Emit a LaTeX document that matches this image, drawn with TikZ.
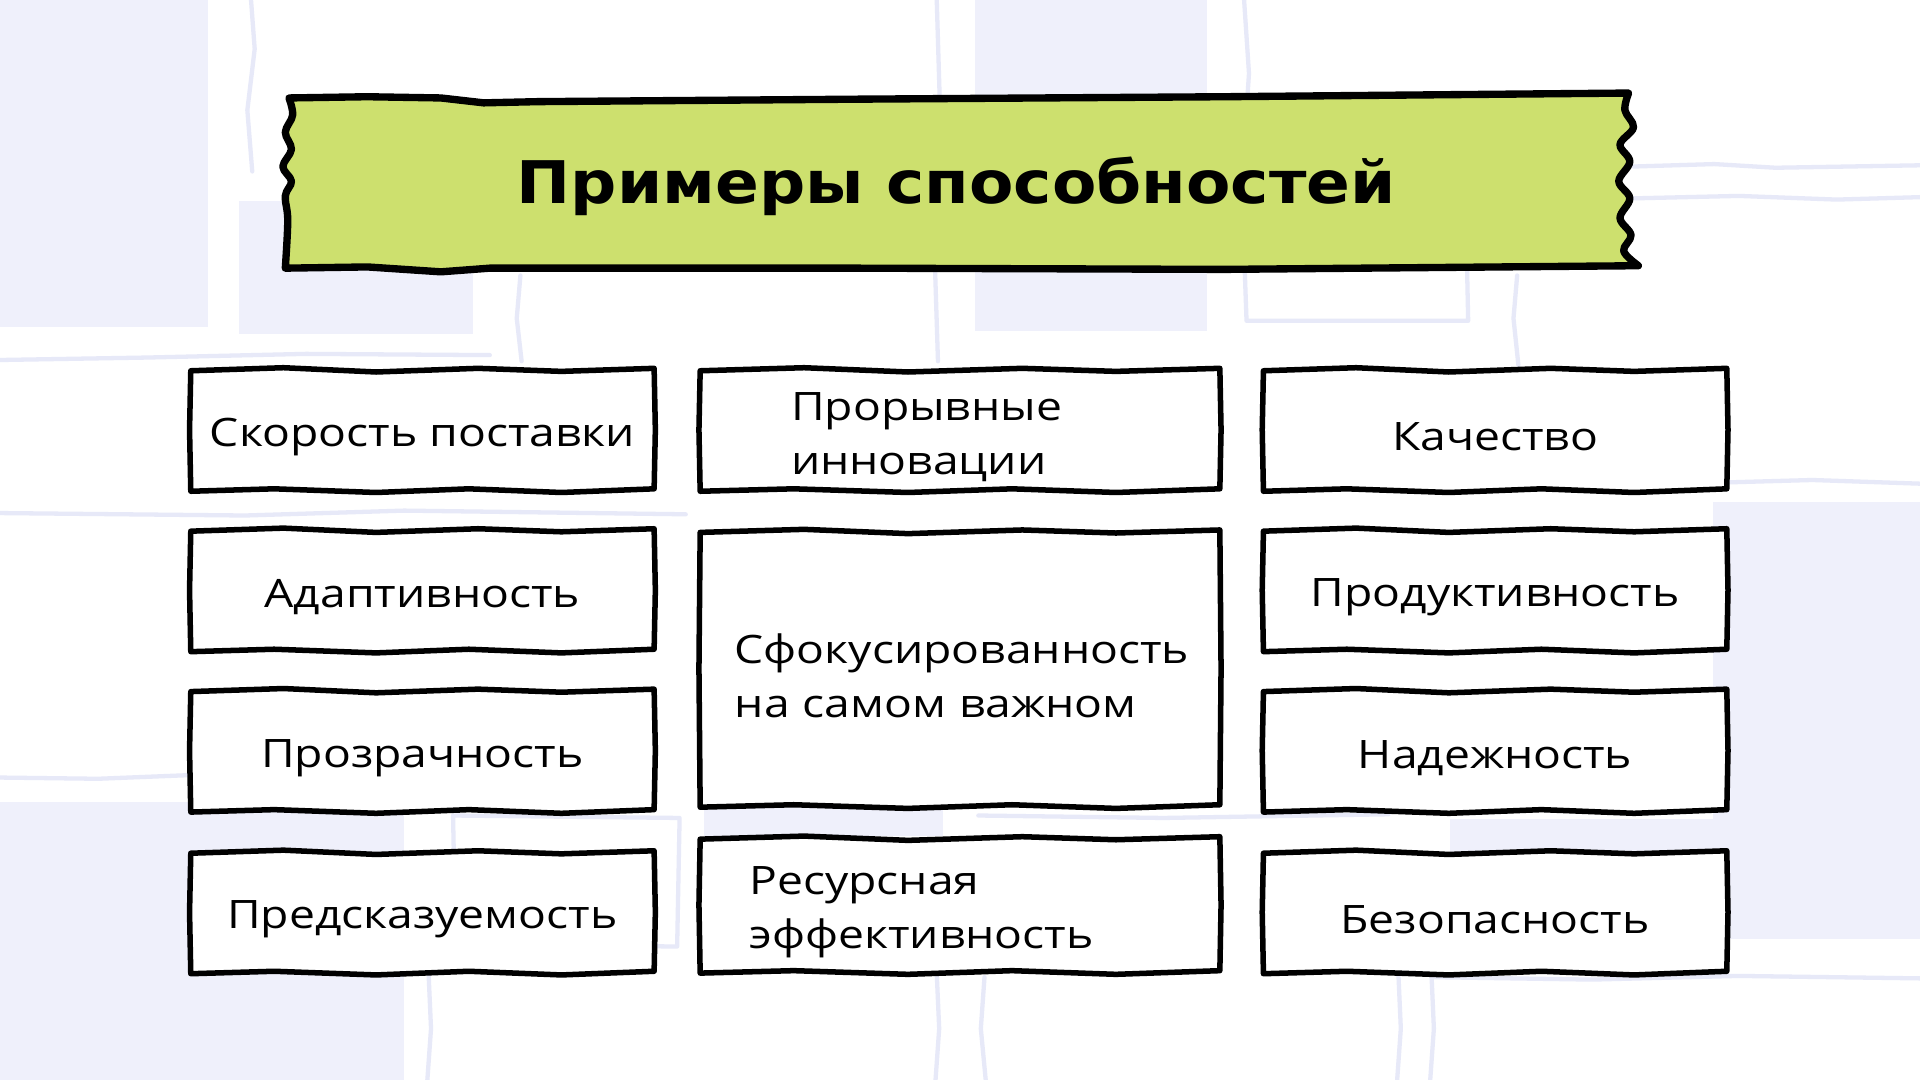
\documentclass[tikz,border=0pt]{standalone}
\usepackage{fontspec}
\setmainfont{Open Sans}[FakeStretch=1.18]
\newfontfamily\titlefont{DejaVu Sans}[FakeStretch=1.1]
\usetikzlibrary{calc,backgrounds}
\definecolor{lav}{HTML}{EFF0FB}
\definecolor{lavline}{HTML}{E7E9F8}
\definecolor{lime}{HTML}{CDE06E}
\tikzset{
  boxline/.style={line width=4.5pt, line join=round, line cap=round, fill=white},
  cell/.style={inner sep=0pt, minimum height=98pt, font=\fontsize{32}{44}\selectfont, align=center},
  narrowcell/.style={cell, minimum width=378pt},
  widecell/.style={cell, minimum width=424pt},
  bgfill/.style={fill=lav, draw=none},
  bgline/.style={draw=lavline, line width=3.5pt, line cap=round, line join=round}
}
% box outline drawn 6pt above the node's own frame (text sits slightly low in its box)
\newcommand\wobbox[1]{%
\coordinate (#1-nw) at ($(#1.north west)+(0,-6)$);
\coordinate (#1-ne) at ($(#1.north east)+(0,-6)$);
\coordinate (#1-se) at ($(#1.south east)+(0,-6)$);
\coordinate (#1-sw) at ($(#1.south west)+(0,-6)$);
\draw[boxline]
 ($(#1-nw)+(0,1)$) -- ($(#1-nw)!0.2!(#1-ne)+(0,-1.5)$)
 -- ($(#1-nw)!0.4!(#1-ne)+(0,2)$) -- ($(#1-nw)!0.62!(#1-ne)+(0,-1)$)
 -- ($(#1-nw)!0.8!(#1-ne)+(0,1.5)$) -- ($(#1-ne)+(0,-1)$)
 -- ($(#1-ne)!0.5!(#1-se)+(1,0)$) -- ($(#1-se)+(0,-1)$)
 -- ($(#1-se)!0.2!(#1-sw)+(0,2)$) -- ($(#1-se)!0.4!(#1-sw)+(0,-1)$)
 -- ($(#1-se)!0.6!(#1-sw)+(0,2)$) -- ($(#1-se)!0.82!(#1-sw)+(0,-1)$)
 -- ($(#1-sw)+(0,1)$) -- ($(#1-sw)!0.5!(#1-nw)+(-1,0)$) -- cycle;}
\begin{document}
\begin{tikzpicture}[x=1pt,y=-1pt]
\useasboundingbox (0,0) rectangle (1568,882);
% column 1
\node[narrowcell] (c1) at (345,357) {Скорость поставки};
\node[narrowcell] (c2) at (345,488) {Адаптивность};
\node[narrowcell] (c3) at (345,619) {Прозрачность};
\node[narrowcell] (c4) at (345,751) {Предсказуемость};
% column 2
\node[widecell, text width=276pt, inner xsep=74pt, align=left] (m1) at (784,357) {Прорывные\\инновации};
\node[widecell, minimum height=224pt, text width=368pt, inner xsep=28pt, align=left] (m2) at (784,552) {Сфокусированность\\на самом важном};
\node[widecell, minimum height=109pt, text width=344pt, inner xsep=40pt, align=left] (m3) at (784,745) {Ресурсная\\эффективность};
% column 3
\node[narrowcell] (r1) at (1221,357) {Качество};
\node[narrowcell] (r2) at (1221,488) {Продуктивность};
\node[narrowcell] (r3) at (1221,619) {Надежность};
\node[narrowcell] (r4) at (1221,751) {Безопасность};
% title
\node[font=\titlefont\bfseries\fontsize{48}{56}\selectfont] (title) at (781,152) {Примеры способностей};
\begin{scope}[on background layer]
\fill[white] (0,0) rectangle (1568,882);
% background decoration
\fill[bgfill] (0,0) rectangle (170,267);
\fill[bgfill] (195,164) rectangle (386,273);
\fill[bgfill] (796,0) rectangle (986,270);
\fill[bgfill] (1399,410) rectangle (1568,767);
\fill[bgfill] (1184,669) rectangle (1399,767);
\fill[bgfill] (0,655) rectangle (330,882);
\fill[bgfill] (575,655) rectangle (770,683);
\draw[bgline] (0,294) -- (120,292) -- (250,289) -- (400,290);
\draw[bgline] (0,419) -- (200,421) -- (330,417) -- (560,420);
\draw[bgline] (205,0) -- (208,40) -- (202,90) -- (206,140);
\draw[bgline] (425,225) -- (422,260) -- (426,295);
\draw[bgline] (765,0) -- (768,100) -- (763,200) -- (766,295);
\draw[bgline] (1016,0) -- (1020,60) -- (1014,150) -- (1018,262) -- (1199,262) -- (1196,120);
\draw[bgline] (1334,136) -- (1400,134) -- (1450,137) -- (1568,135);
\draw[bgline] (1334,162) -- (1420,160) -- (1500,163) -- (1568,161);
\draw[bgline] (1239,225) -- (1236,260) -- (1240,298);
\draw[bgline] (1409,394) -- (1480,392) -- (1568,395);
\draw[bgline] (0,635) -- (80,636) -- (155,633);
\draw[bgline] (370,666) -- (555,668) -- (553,773) -- (372,771) -- cycle;
\draw[bgline] (350,795) -- (352,840) -- (349,882);
\draw[bgline] (765,795) -- (767,840) -- (764,882);
\draw[bgline] (804,798) -- (801,840) -- (805,882);
\draw[bgline] (1142,795) -- (1144,840) -- (1141,882);
\draw[bgline] (1169,795) -- (1171,840) -- (1168,882);
\draw[bgline] (1169,798) -- (1300,800) -- (1420,797) -- (1568,799);
\draw[bgline] (799,666) -- (950,668) -- (1134,665);
% banner
\draw[line width=6pt, line join=round, fill=lime]
  (236,80) -- (300,79) -- (360,80) -- (395,84) -- (440,83) -- (700,81) -- (1000,79) -- (1330,76)
  -- plot[smooth, tension=0.6] coordinates {(1330,76) (1327,90) (1334,104) (1323,118) (1331,132) (1322,148) (1331,162) (1323,178) (1332,192) (1326,205) (1338,217)}
  -- (1000,220) -- (700,219) -- (400,219) -- (360,222) -- (300,218) -- (233,219)
  -- plot[smooth, tension=0.6] coordinates {(233,219) (235,180) (233,160) (238,148) (231,136) (238,122) (233,108) (239,94) (236,80)}
  -- cycle;
% boxes
\foreach \n in {c1,c2,c3,c4,m1,m2,m3,r1,r2,r3,r4}{\wobbox{\n}}
\end{scope}
\end{tikzpicture}
\end{document}
